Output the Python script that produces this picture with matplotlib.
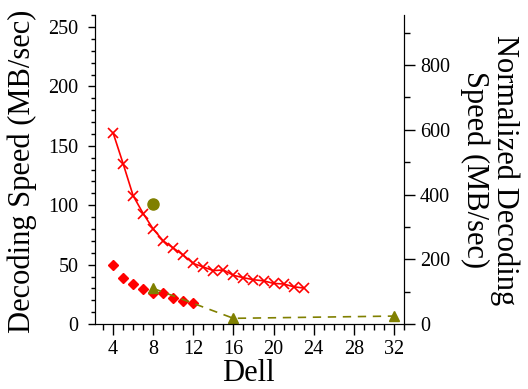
import matplotlib
matplotlib.use("Agg")
import matplotlib.pyplot as plt
from matplotlib.ticker import MultipleLocator

plt.rcParams['font.family'] = ['Liberation Serif', 'DejaVu Serif']

# data
x_cross = list(range(4, 24))
y_cross = [161, 135, 108, 93, 80, 70, 64, 58, 51, 48, 45, 45.5, 41, 39, 37.3, 36.4, 34.2, 33.7, 31.4, 30.3]

x_diamond = list(range(4, 13))
y_diamond = [49.7, 38.5, 33.9, 29.5, 26.1, 25.8, 21.6, 19.6, 17.4]

x_circle = [8]
y_circle = [101]

x_tri = [8, 16, 32]
y_tri = [30, 4.8, 6.7]

x_ticks = [4, 8, 12, 16, 20, 24, 28, 32]

red = '#ff0000'
olive = '#808000'

fig = plt.figure(figsize=(5.28, 3.89), dpi=100)
ax = fig.add_axes([0.18, 0.167, 0.585, 0.794])
ax2 = ax.twinx()

ax.plot(x_cross, y_cross, color=red, marker='x', markersize=7.5, markeredgewidth=1.2, linewidth=1.2)
ax.plot(x_diamond, y_diamond, color=red, marker='D', markersize=5.5, linestyle='none')
ax.plot(x_tri, y_tri, color=olive, marker='^', markersize=7.5, linewidth=1.2, linestyle=(0, (5, 4)))
ax.plot(x_circle, y_circle, color=olive, marker='o', markersize=8, linestyle='none')

ax.set_xlim(2.2, 33)
ax.set_ylim(0, 260)
ax2.set_ylim(0, 954)

ax.set_xticks(x_ticks)
ax.xaxis.set_minor_locator(MultipleLocator(1))
ax.yaxis.set_major_locator(MultipleLocator(50))
ax.yaxis.set_minor_locator(MultipleLocator(10))
ax2.yaxis.set_major_locator(MultipleLocator(200))
ax2.yaxis.set_minor_locator(MultipleLocator(100))

for a in (ax, ax2):
    a.spines['top'].set_visible(False)
    a.tick_params(which='major', direction='out', length=8, width=1, labelsize=14.5)
    a.tick_params(which='minor', direction='out', length=4.5, width=1)
ax.tick_params(axis='y', which='major', length=5, pad=7)
ax.tick_params(axis='y', which='minor', length=3)

fig.text(248 / 528, 1 / 389, 'Dell', fontsize=22, ha='center', va='bottom')
fig.text(22 / 528, 1 - 171.5 / 389, 'Decoding Speed (MB/sec)', fontsize=22,
         rotation=90, ha='center', va='center')
fig.text(490 / 528, 1 - 170 / 389, 'Normalized Decoding\nSpeed (MB/sec)', fontsize=22,
         rotation=270, ha='center', va='center', multialignment='center', linespacing=1.0)

fig.savefig('out.png', dpi=100)
